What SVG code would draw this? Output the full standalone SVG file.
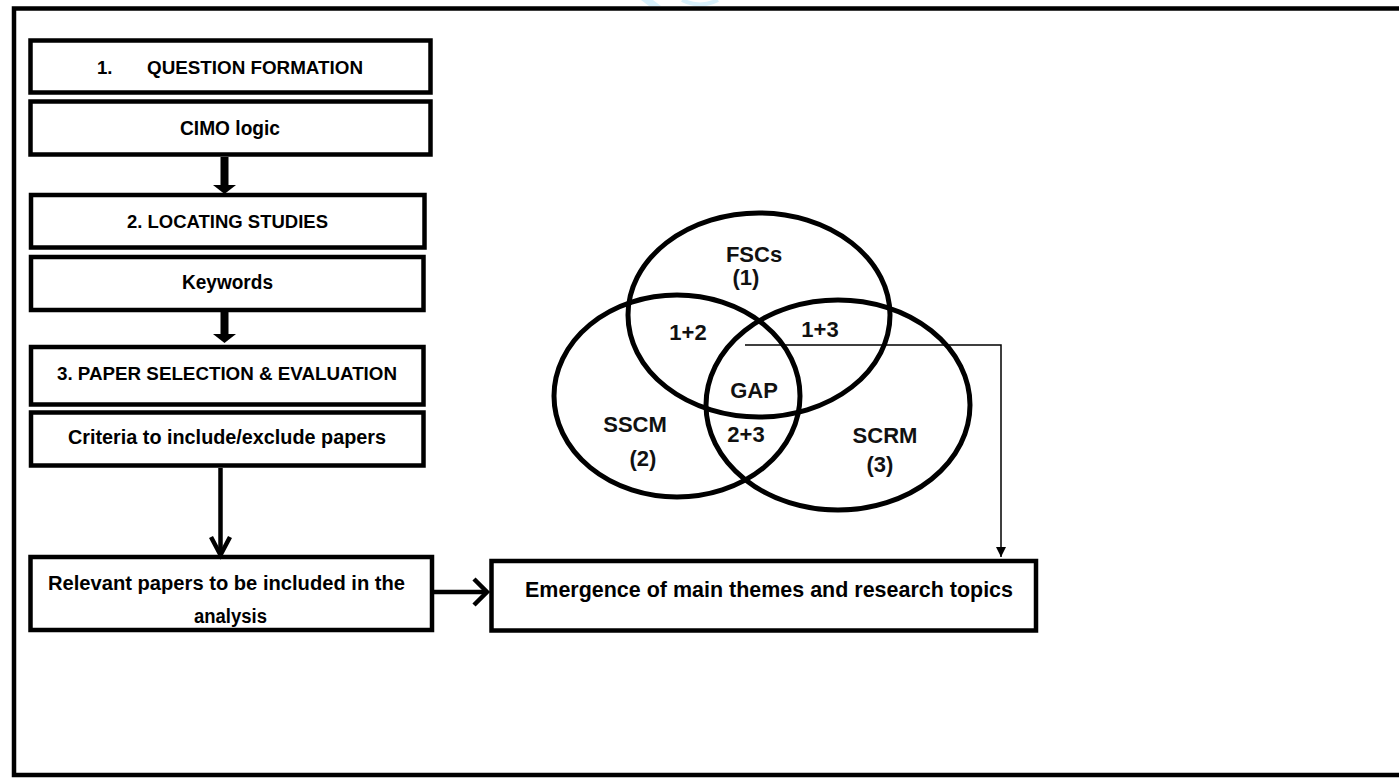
<svg xmlns="http://www.w3.org/2000/svg" width="1399" height="779" viewBox="0 0 1399 779">
  <style>
    .box { fill: #ffffff; stroke: #000000; stroke-width: 4.5; }
    .frame { fill: none; stroke: #000000; stroke-width: 4.5; }
    .venn { fill: none; stroke: #000000; stroke-width: 5; }
    .t { font-family: "Liberation Sans", Arial, sans-serif; font-weight: bold; fill: #000000; }
    .caps { font-size: 18.6px; }
    .low { font-size: 19.5px; }
    .big { font-size: 21.5px; }
    .vl { font-family: "Liberation Sans", Arial, sans-serif; font-weight: bold; font-size: 22px; fill: #111111; text-anchor: middle; }
    .thick { stroke: #000000; stroke-width: 8; fill: none; }
    .shaft { stroke: #000000; stroke-width: 4.5; fill: none; }
    .chev { stroke: #000000; stroke-width: 4.5; fill: none; stroke-linejoin: miter; }
    .thin { stroke: #000000; stroke-width: 1.5; fill: none; }
  </style>
  <defs>
    <marker id="headThick" viewBox="0 0 9 23" refX="0" refY="11.5" markerWidth="9" markerHeight="23" markerUnits="userSpaceOnUse" orient="auto">
      <path d="M0,0 L9,11.5 L0,23 Z" fill="#000000"/>
    </marker>
    <marker id="headThin" viewBox="0 0 10 10" refX="10" refY="5" markerWidth="10" markerHeight="10" markerUnits="userSpaceOnUse" orient="auto">
      <path d="M0,0 L10,5 L0,10 Z" fill="#000000"/>
    </marker>
  </defs>

  <rect width="1399" height="779" fill="#ffffff"/>

  <!-- watermark fragment -->
  <path d="M641,0 L653,0 L661,6 L649,6 Z" fill="#d8f1fc"/>
  <path d="M682,0 Q700,9 718,0" fill="none" stroke="#d8f1fc" stroke-width="4"/>

  <!-- outer frame (right side runs off the page) -->
  <path class="frame" d="M1410,8.5 L14,8.5 L14,775 L1410,775"/>

  <g id="question-formation">
    <rect class="box" x="30.5" y="40.5" width="400" height="52"/>
    <text class="t caps" y="74"><tspan x="97">1.</tspan><tspan x="147" textLength="216" lengthAdjust="spacingAndGlyphs">QUESTION FORMATION</tspan></text>
  </g>

  <g id="cimo-logic">
    <rect class="box" x="30.5" y="101.5" width="400" height="53"/>
    <text class="t low" x="180" y="135" textLength="100" lengthAdjust="spacingAndGlyphs">CIMO logic</text>
  </g>

  <g id="locating-studies">
    <rect class="box" x="31" y="195" width="393.5" height="52.5"/>
    <text class="t caps" x="127" y="227.5" textLength="201" lengthAdjust="spacingAndGlyphs">2. LOCATING STUDIES</text>
  </g>

  <g id="keywords">
    <rect class="box" x="31" y="257" width="392.5" height="53"/>
    <text class="t low" x="182" y="289" textLength="91" lengthAdjust="spacingAndGlyphs">Keywords</text>
  </g>

  <g id="paper-selection">
    <rect class="box" x="31" y="347" width="392.5" height="57.5"/>
    <text class="t caps" x="57" y="379.5" textLength="340" lengthAdjust="spacingAndGlyphs">3. PAPER SELECTION &amp; EVALUATION</text>
  </g>

  <g id="criteria">
    <rect class="box" x="31" y="412.5" width="392.5" height="53"/>
    <text class="t low" x="68" y="444" textLength="318" lengthAdjust="spacingAndGlyphs">Criteria to include/exclude papers</text>
  </g>

  <g id="relevant-papers">
    <rect x="30.5" y="557" width="401.5" height="73" fill="#ffffff"/>
    <text class="t low" x="48" y="590" textLength="357" lengthAdjust="spacingAndGlyphs">Relevant papers to be included in the</text>
    <text class="t low" x="194" y="623" textLength="73" lengthAdjust="spacingAndGlyphs">analysis</text>
    <rect class="box" x="30.5" y="557" width="401.5" height="73" fill="none" style="fill:none"/>
  </g>

  <g id="emergence">
    <rect class="box" x="491.5" y="561" width="544.5" height="69.5"/>
    <text class="t big" x="525" y="597" textLength="488" lengthAdjust="spacingAndGlyphs">Emergence of main themes and research topics</text>
  </g>

  <g id="venn">
    <ellipse class="venn" cx="759" cy="315" rx="131" ry="102"/>
    <ellipse class="venn" cx="677" cy="396" rx="123" ry="101"/>
    <ellipse class="venn" cx="838" cy="405" rx="132" ry="105"/>
    <text class="vl" x="754" y="262">FSCs</text>
    <text class="vl" x="746" y="285">(1)</text>
    <text class="vl" x="688" y="340">1+2</text>
    <text class="vl" x="820" y="337">1+3</text>
    <text class="vl" x="754" y="398">GAP</text>
    <text class="vl" x="635" y="432">SSCM</text>
    <text class="vl" x="643" y="466">(2)</text>
    <text class="vl" x="746" y="442">2+3</text>
    <text class="vl" x="885" y="443">SCRM</text>
    <text class="vl" x="880" y="472">(3)</text>
  </g>

  <g id="connectors">
    <line class="thick" x1="224.5" y1="157" x2="224.5" y2="185" marker-end="url(#headThick)"/>
    <line class="thick" x1="224.5" y1="312" x2="224.5" y2="334" marker-end="url(#headThick)"/>
    <line class="shaft" x1="220.5" y1="468" x2="220.5" y2="553"/>
    <path class="chev" d="M211,537 L220.5,555 L230,537"/>
    <line class="shaft" x1="433" y1="592" x2="484" y2="592"/>
    <path class="chev" d="M474,579 L487,592 L474,605"/>
    <polyline class="thin" points="745,345 1001,345 1001,557" marker-end="url(#headThin)"/>
  </g>
</svg>
